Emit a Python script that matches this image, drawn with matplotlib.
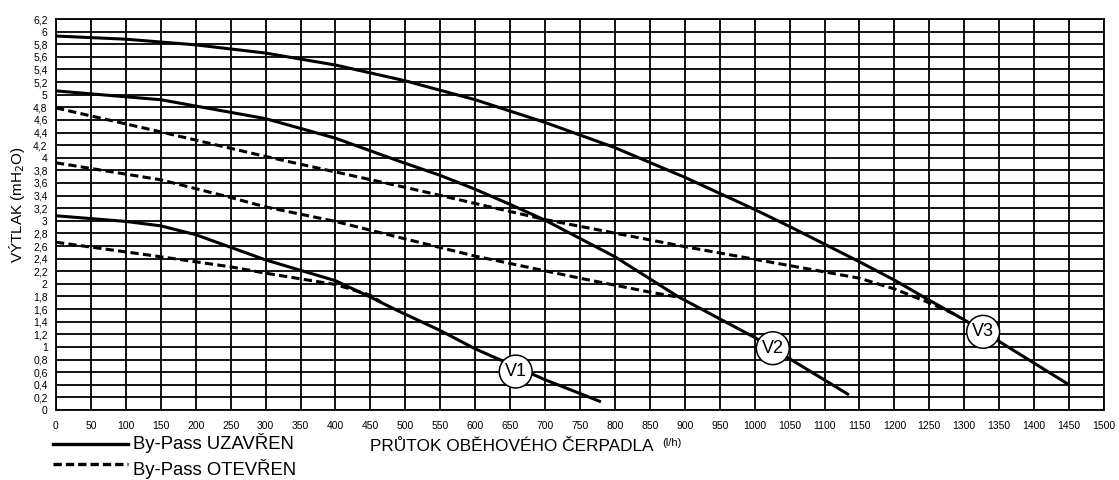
import matplotlib.pyplot as plt

plt.rcParams['font.family'] = ['Liberation Sans', 'DejaVu Sans']

# Křivky čerpadla - rychlosti V1, V2, V3 (průtok l/h, výtlak mH2O)
# By-Pass uzavřen (plná čára)
v3_q = [0, 100, 200, 300, 400, 500, 600, 700, 800, 900, 1000, 1050, 1150, 1200, 1250, 1300, 1450]
v3_h = [5.93, 5.88, 5.79, 5.66, 5.47, 5.22, 4.92, 4.56, 4.16, 3.69, 3.18, 2.91, 2.35, 2.06, 1.74, 1.43, 0.40]

v2_q = [0, 150, 300, 400, 490, 550, 600, 650, 700, 800, 890, 1000, 1135]
v2_h = [5.06, 4.92, 4.62, 4.31, 3.95, 3.72, 3.50, 3.26, 3.01, 2.43, 1.80, 1.15, 0.24]

v1_q = [0, 100, 150, 200, 250, 300, 400, 450, 490, 550, 600, 700, 780]
v1_h = [3.08, 2.99, 2.92, 2.78, 2.58, 2.38, 2.05, 1.79, 1.57, 1.26, 0.97, 0.48, 0.13]

# By-Pass otevřen (čárkovaně)
v3o_q = [0, 150, 300, 500, 700, 900, 1000, 1100, 1150, 1200, 1250, 1290]
v3o_h = [4.79, 4.41, 4.02, 3.53, 3.02, 2.59, 2.39, 2.19, 2.09, 1.92, 1.70, 1.50]

v2o_q = [0, 150, 250, 300, 400, 490, 600, 750, 845, 895]
v2o_h = [3.92, 3.65, 3.37, 3.22, 2.99, 2.74, 2.44, 2.09, 1.88, 1.78]

v1o_q = [0, 150, 250, 300, 400, 450, 465]
v1o_h = [2.66, 2.43, 2.27, 2.17, 1.99, 1.82, 1.71]

# popisky rychlostí
labels = ['V1', 'V2', 'V3']
label_q = [658, 1026, 1327]
label_h = [0.61, 0.98, 1.24]

x_ticks = list(range(0, 1501, 50))
y_ticks = [i / 5 for i in range(0, 32)]


def fmt(v):
    s = ('%.1f' % v).rstrip('0').rstrip('.')
    return s.replace('.', ',')


fig = plt.figure(figsize=(11.19, 4.8), dpi=100)
ax = fig.add_axes([0.05004, 0.14583, 0.93655, 0.81458])

ax.set_xlim(0, 1500)
ax.set_ylim(0, 6.2)
ax.set_xticks(x_ticks)
ax.set_yticks(y_ticks)
ax.set_xticklabels([str(v) for v in x_ticks], fontsize=7.5)
ax.set_yticklabels([fmt(v) for v in y_ticks], fontsize=7.5)
ax.tick_params(axis='x', length=0, pad=8)
ax.tick_params(axis='y', length=0, pad=6)
ax.grid(True, color='black', lw=1.3)
ax.set_axisbelow(True)
for s in ax.spines.values():
    s.set_color('black')
    s.set_linewidth(1.3)

kw = dict(color='black', lw=2.2, solid_capstyle='butt')
for q, h in [(v1_q, v1_h), (v2_q, v2_h), (v3_q, v3_h)]:
    ax.plot(q, h, '-', **kw)
for q, h in [(v1o_q, v1o_h), (v2o_q, v2o_h), (v3o_q, v3o_h)]:
    ax.plot(q, h, '--', dashes=(2.7, 1.4), **kw)

for t, q, h in zip(labels, label_q, label_h):
    ax.text(q, h, t, fontsize=13, ha='center', va='center', zorder=5,
            bbox=dict(boxstyle='circle,pad=0.3', fc='white', ec='black', lw=1.1))

# popis osy Y
fig.text(0.0155, 0.573, 'VÝTLAK (mH$_2$O)', fontsize=11, rotation=90,
         ha='center', va='center')

# osa X a legenda pod grafem
fig.text(0.3307, 0.069, 'PRŮTOK OBĚHOVÉHO ČERPADLA', fontsize=12.4, va='center')
fig.text(0.5916, 0.077, '(l/h)', fontsize=8, va='center')

fig.add_artist(plt.Line2D([0.0474, 0.1144], [0.0760, 0.0760], color='black', lw=2.4))
fig.add_artist(plt.Line2D([0.0474, 0.1144], [0.0333, 0.0333], color='black', lw=2.4,
                          ls='--', dashes=(2.5, 1.2)))
fig.text(0.119, 0.078, 'By-Pass UZAVŘEN', fontsize=13.3, va='center')
fig.text(0.119, 0.022, 'By-Pass OTEVŘEN', fontsize=13.3, va='center')

fig.savefig('out.png', dpi=100)
